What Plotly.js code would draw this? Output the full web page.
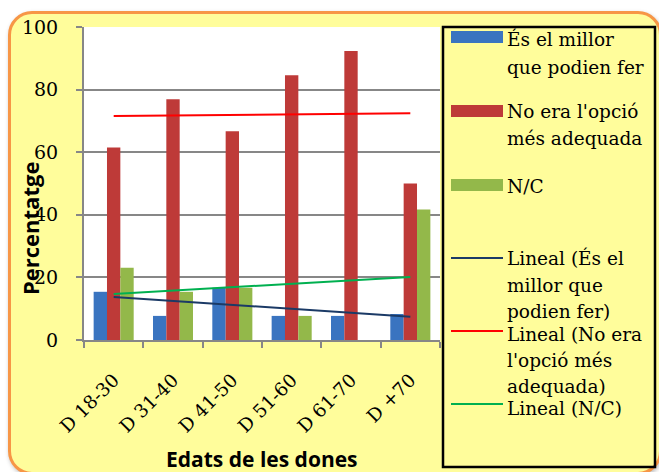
<!DOCTYPE html>
<html>
<head>
<meta charset="utf-8">
<script src="https://cdn.plot.ly/plotly-3.0.1.min.js"></script>
<style>
  html, body { margin: 0; padding: 0; background: #ffffff; overflow: hidden; }
  #frame { position: absolute; left: 8px; top: 11px; width: 654px; height: 464px;
           box-sizing: border-box; background: #FFFD9B; border: 3px solid #F79646;
           border-radius: 24px; box-shadow: 1px 2px 4px rgba(0,0,0,0.25); }
  #chart { position: absolute; left: 0; top: 0; width: 659px; height: 472px; }
</style>
</head>
<body>
<div id="frame"></div>
<div id="chart"></div>
<script>
// ---- data ----
const categories = ["D 18-30", "D 31-40", "D 41-50", "D 51-60", "D 61-70", "D +70"];
const seriesNames = ["És el millor que podien fer", "No era l'opció més adequada", "N/C"];
const legendLines = [
  ["És el millor", "que podien fer"],
  ["No era l'opció", "més adequada"],
  ["N/C"],
  ["Lineal (És el", "millor que", "podien fer)"],
  ["Lineal (No era", "l'opció més", "adequada)"],
  ["Lineal (N/C)"]
];
const bestOption = [15.4, 7.7, 16.7, 7.7, 7.7, 8.3];
const notBestOption = [61.5, 76.9, 66.7, 84.6, 92.3, 50.0];
const noAnswer = [23.1, 15.4, 16.7, 7.7, 0.0, 41.7];
const yTicks = [0, 20, 40, 60, 80, 100];
const xTitle = "Edats de les dones";
const yTitle = "Percentatge";

// ---- styling ----
const barColors = ["#3A74C0", "#BE3A38", "#93B84A"];
const trendColors = ["#1B3A66", "#FF0000", "#00B050"];
const serif = "'DejaVu Serif', serif";
const sans = "'Open Sans', Carlito, sans-serif";

// plot area in pixels
const L = 84, R = 440, T = 27, B = 340, W = 659, H = 472;
const px = x => (x - L) / (R - L);
const py = y => (B - y) / (B - T);

// linear trend line (least squares over category index), as in the original "Lineal" series
function linearFit(vals) {
  const n = vals.length;
  const xs = vals.map((_, i) => i + 1);
  const mx = xs.reduce((a, b) => a + b, 0) / n;
  const my = vals.reduce((a, b) => a + b, 0) / n;
  let sxy = 0, sxx = 0;
  for (let i = 0; i < n; i++) { sxy += (xs[i] - mx) * (vals[i] - my); sxx += (xs[i] - mx) ** 2; }
  const m = sxy / sxx;
  return xs.map(x => my + m * (x - mx));
}

const allSeries = [bestOption, notBestOption, noAnswer];
const traces = [];
allSeries.forEach((vals, i) => {
  traces.push({ type: "bar", x: categories, y: vals, name: seriesNames[i],
    marker: { color: barColors[i], line: { width: 0 } }, showlegend: false, hoverinfo: "skip" });
});
allSeries.forEach((vals, i) => {
  traces.push({ type: "scatter", mode: "lines", x: categories, y: linearFit(vals),
    name: "Lineal (" + seriesNames[i] + ")", line: { color: trendColors[i], width: 2 },
    showlegend: false, hoverinfo: "skip" });
});

// ---- legend drawn as shapes + text ----
const shapes = [];
const annotations = [];
shapes.push({ type: "rect", xref: "paper", yref: "paper", x0: px(443), x1: px(655), y0: py(27), y1: py(467),
  line: { color: "#000000", width: 2.5 }, fillcolor: "rgba(0,0,0,0)", layer: "above" });
const swatchY = [37, 111, 185, 258, 331, 404];
const lineY = [[39, 67], [112, 138], [186], [258, 285, 311], [334, 360, 386], [408]];
for (let i = 0; i < 6; i++) {
  if (i < 3) {
    shapes.push({ type: "rect", xref: "paper", yref: "paper", x0: px(451), x1: px(503),
      y0: py(swatchY[i] + 6), y1: py(swatchY[i] - 6), line: { width: 0 }, fillcolor: barColors[i] });
  } else {
    shapes.push({ type: "line", xref: "paper", yref: "paper", x0: px(451), x1: px(503),
      y0: py(swatchY[i]), y1: py(swatchY[i]), line: { color: trendColors[i - 3], width: 2 } });
  }
  legendLines[i].forEach((txt, j) => {
    annotations.push({ xref: "paper", yref: "paper", x: px(506), y: py(lineY[i][j]), xanchor: "left", yanchor: "middle",
      text: txt, showarrow: false, align: "left", borderpad: 0, font: { family: serif, size: 18.5, color: "#000" } });
  });
}
// axis titles
annotations.push({ xref: "paper", yref: "paper", x: px(262), y: py(459), xanchor: "center", yanchor: "middle",
  text: "<b>" + xTitle + "</b>", showarrow: false, font: { family: sans, size: 21, color: "#000" } });
annotations.push({ xref: "paper", yref: "paper", x: px(30), y: py(229), xanchor: "center", yanchor: "middle",
  text: "<b>" + yTitle + "</b>", showarrow: false, textangle: -90, font: { family: sans, size: 22, color: "#000" } });

const layout = {
  width: W, height: H,
  margin: { l: L, r: W - R, t: T, b: H - B, pad: 0 },
  paper_bgcolor: "rgba(0,0,0,0)", plot_bgcolor: "#ffffff",
  barmode: "group", bargap: 0.325, bargroupgap: 0,
  showlegend: false,
  xaxis: { type: "category", tickangle: -45, tickson: "boundaries", ticks: "outside", ticklen: 6,
    tickwidth: 2, tickcolor: "#878787", showline: true, linecolor: "#878787", linewidth: 2,
    showgrid: false, ticklabelstandoff: 20, tickfont: { family: serif, size: 18.5, color: "#000" }, fixedrange: true },
  yaxis: { range: [0, 100], tickvals: yTicks, ticks: "outside", ticklen: 6, tickwidth: 2, tickcolor: "#878787",
    showline: true, linecolor: "#878787", linewidth: 2, gridcolor: "#878787", gridwidth: 2,
    zeroline: false, ticklabelstandoff: 14, tickfont: { family: serif, size: 19, color: "#000" }, fixedrange: true },
  shapes: shapes, annotations: annotations
};

Plotly.newPlot("chart", traces, layout, { displayModeBar: false, staticPlot: true });
</script>
</body>
</html>
